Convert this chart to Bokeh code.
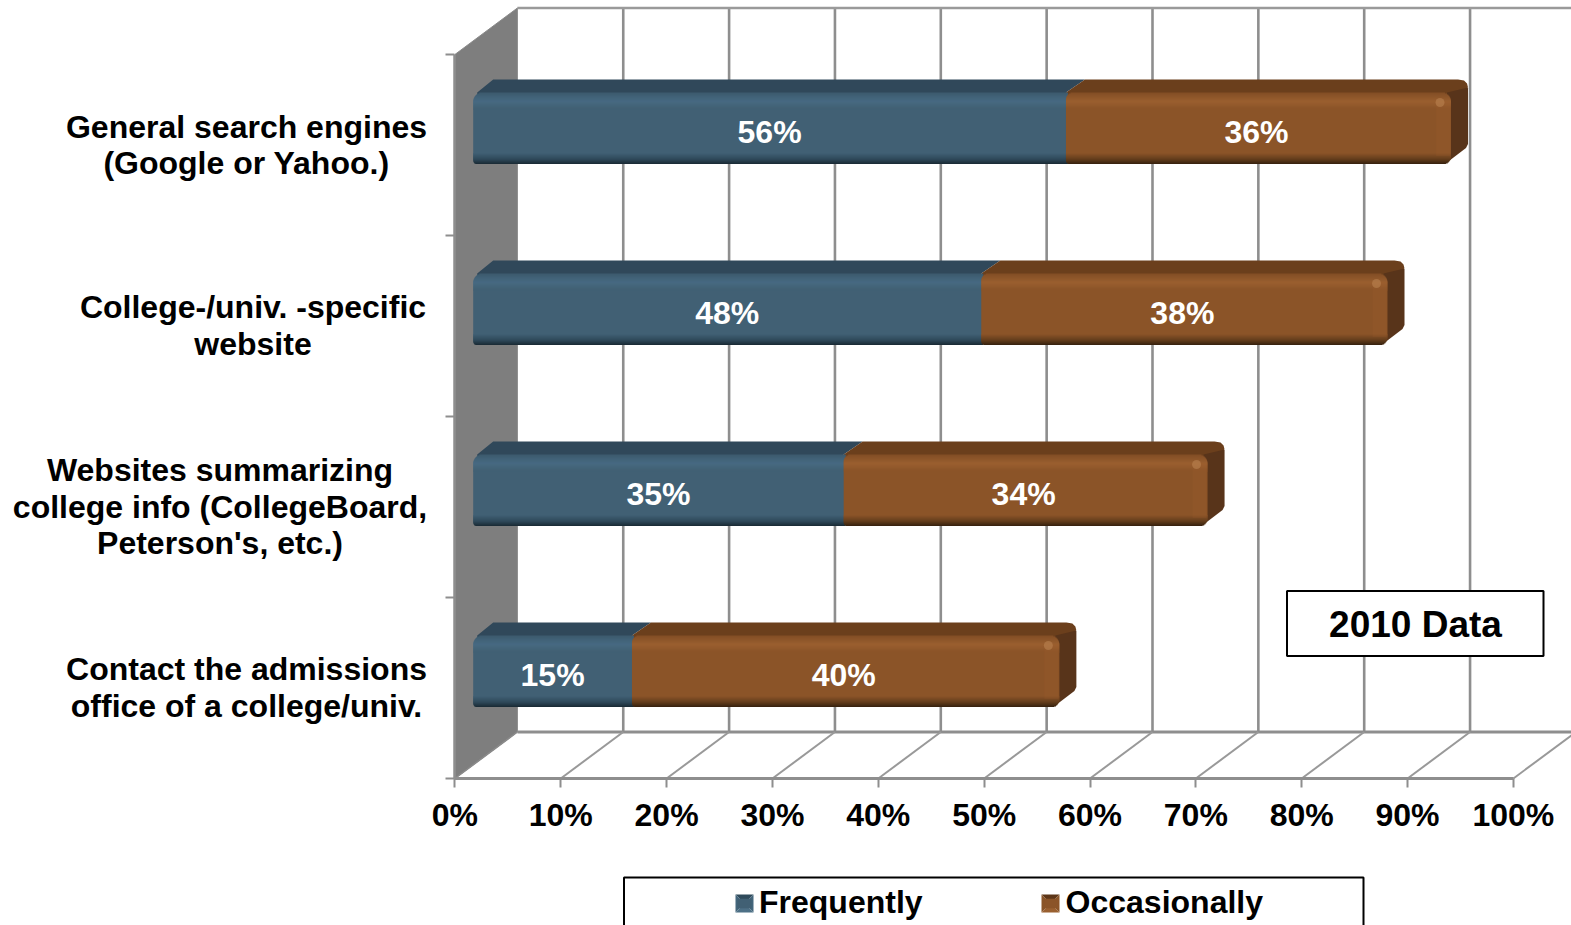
from bokeh.embed import file_html
from bokeh.resources import INLINE
from bokeh.core.properties import value
from bokeh.models import (BoxAnnotation, FixedTicker, Label, Legend, LegendItem,
                          PolyAnnotation, Range1d)
from bokeh.plotting import figure

# Survey results, bottom category first
category_lines = [
    ["Contact the admissions", "office of a college/univ."],
    ["Websites summarizing", "college info (CollegeBoard,", "Peterson's, etc.)"],
    ["College-/univ. -specific", "website"],
    ["General search engines", "(Google or Yahoo.)"],
]
frequently = [15, 35, 48, 56]
occasionally = [40, 34, 38, 36]
x_ticks = [0, 10, 20, 30, 40, 50, 60, 70, 80, 90, 100]
x_tick_labels = ["0%", "10%", "20%", "30%", "40%", "50%", "60%", "70%", "80%", "90%", "100%"]
series_names = ["Frequently", "Occasionally"]
badge_text = "2010 Data"

FONT = "Liberation Sans"
W, H = 1571, 925
LEFT, BOTTOM = 454.4, 147    # page position of the plot origin
X_SCALE = 10.585   # pixels per percentage point
Y_SCALE = 181.0    # pixels per category band


def dx(px):
    return px / X_SCALE


def dy(px):
    return px / Y_SCALE


def px_x(px):
    return (px - LEFT) / X_SCALE


def px_y(px):
    return (H - BOTTOM - px) / Y_SCALE


n_cat = len(category_lines)
p = figure(width=W, height=H, output_backend="svg", toolbar_location=None,
           x_range=Range1d(px_x(0), px_x(W)), y_range=Range1d(px_y(H), px_y(0)),
           min_border=0, outline_line_color=None,
           background_fill_color="white", border_fill_color="white")
p.grid.visible = False

GRID = "#8e8e8e"
WALL_X, WALL_Y = dx(62.5), dy(46.5)

# Side wall of the 3D box
p.patch([0, WALL_X, WALL_X, 0], [0, WALL_Y, n_cat + WALL_Y, n_cat],
        fill_color="#7e7e7e", line_color="#8a8a8a", line_width=1)

# Back wall gridlines, rear edges and floor diagonals
back_x = [t + WALL_X for t in x_ticks]
p.segment(back_x[1:], [WALL_Y] * 10, back_x[1:], [n_cat + WALL_Y] * 10,
          line_color=GRID, line_width=2.6)
p.segment([WALL_X], [n_cat + WALL_Y], [px_x(W + 10)], [n_cat + WALL_Y],
          line_color="#9a9a9a", line_width=2.4)
p.segment([WALL_X], [WALL_Y], [100 + WALL_X], [WALL_Y], line_color=GRID, line_width=2.8)
p.segment(x_ticks[1:], [0] * 10, back_x[1:], [WALL_Y] * 10, line_color="#999999", line_width=2)
p.segment([0], [0], [WALL_X], [WALL_Y], line_color="#8a8a8a", line_width=1.5)

# Bar geometry relative to each category band centre
BAR_X = dx(18.3)
FACE_TOP, FACE_BOT = dy(52.5), -dy(19.0)
DEPTH_Y = dy(13.0)
DEPTH_X = dx(17.0)
SPLIT_X = dx(19.0)  # rear offset of the blue/brown joint
CAP = dx(4)         # rounded end cap extends past the stacked total
FACE_PX = 72

# Vertical shading of the rounded bar fronts: position, blue, brown
SHADE = [
    (0.00, (0x3d, 0x5b, 0x6f), (0x83, 0x4e, 0x25)),
    (0.12, (0x47, 0x6a, 0x82), (0x9a, 0x5f, 0x30)),
    (0.22, (0x41, 0x60, 0x74), (0x8b, 0x54, 0x28)),
    (0.86, (0x3f, 0x5e, 0x72), (0x88, 0x52, 0x27)),
    (0.94, (0x2e, 0x48, 0x59), (0x62, 0x3c, 0x1b)),
    (1.00, (0x1b, 0x2c, 0x37), (0x3a, 0x23, 0x0f)),
]


def shade(f, which):
    for (f0, *c0), (f1, *c1) in zip(SHADE, SHADE[1:]):
        if f <= f1:
            t = (f - f0) / (f1 - f0)
            a, b = c0[which], c1[which]
            return "#%02x%02x%02x" % tuple(round(u + (v - u) * t) for u, v in zip(a, b))
    return "#000000"


def corner(row, r_top, r_bot):
    """Horizontal inset in pixels of a rounded corner at this pixel row."""
    if row < r_top:
        d = r_top - row - 0.5
        return r_top - (r_top ** 2 - d ** 2) ** 0.5
    low = FACE_PX - 1 - row
    if low < r_bot:
        d = r_bot - low - 0.5
        return r_bot - (r_bot ** 2 - d ** 2) ** 0.5
    return 0.0


# Right end and top faces, drawn first so the fronts overlap them
UNDERLAP = dy(6)   # faces run under the front so no seam shows
for i in range(n_cat):
    c = i + 0.5
    x0 = BAR_X
    x1 = x0 + frequently[i]
    x2 = x1 + occasionally[i] + CAP
    t, b = c + FACE_TOP, c + FACE_BOT
    bt = t + DEPTH_Y
    xb = x2 + DEPTH_X
    p.patch([x2 - dx(10), xb - dx(3), xb, xb, xb - dx(2), x2 - dx(6), x2 - dx(10)],
            [t, bt - dy(4), bt - dy(9), b + dy(20), b + dy(16), b, b],
            fill_color="#58341a", line_color=None)
    p.patch([x0 + dx(4), x0 + dx(20), x1 + SPLIT_X, x1, x1, x0 + dx(4)],
            [t, bt, bt, t, t - UNDERLAP, t - UNDERLAP],
            fill_color="#30485a", line_color=None)
    p.patch([x1, x1 + SPLIT_X, xb - dx(10), xb - dx(4), xb - dx(1), xb, x2 - dx(4),
             x2 - dx(4), x1],
            [t, bt, bt, bt - dy(1), bt - dy(4), bt - dy(8), t, t - UNDERLAP, t - UNDERLAP],
            fill_color="#6b3f1c", line_color=None)

# Bar fronts: fine rows at the shaded rims, one wide row for the flat body
BODY_START, BODY_END = 17, 61
row_spans = [(r, r + 1) for r in range(BODY_START)] + [(BODY_START, BODY_END)] \
    + [(r, r + 1) for r in range(BODY_END, FACE_PX)]
rows = {0: dict(l=[], r=[], t=[], b=[], c=[]), 1: dict(l=[], r=[], t=[], b=[], c=[])}
for i in range(n_cat):
    c = i + 0.5
    x0 = BAR_X
    x1 = x0 + frequently[i]
    x2 = x1 + occasionally[i] + CAP
    top = c + FACE_TOP
    for r0, r1 in row_spans:
        f = r0 / (FACE_PX - 1)
        y_t = top - dy(r0 * 71.5 / FACE_PX)
        y_b = top - dy(min((r1 + 0.6) * 71.5 / FACE_PX, 71.5))
        rows[0]["l"].append(x0 + dx(corner(r0, 9, 4)))
        rows[0]["r"].append(x1 + dx(2))
        rows[0]["t"].append(y_t)
        rows[0]["b"].append(y_b)
        rows[0]["c"].append(shade(f, 0))
        rows[1]["l"].append(x1 + dx(corner(r0, 7, 4)))
        rows[1]["r"].append(x2 - dx(corner(r0, 9, 8)))
        rows[1]["t"].append(y_t)
        rows[1]["b"].append(y_b)
        rows[1]["c"].append(shade(f, 1))

front_renderers = []
for k in (0, 1):
    d = rows[k]
    front_renderers.append(p.quad(left=d["l"], right=d["r"], top=d["t"], bottom=d["b"],
                                  fill_color=d["c"], line_color=None))

# Raised rim and corner glint at the right end of each bar
for i in range(n_cat):
    c = i + 0.5
    x2 = BAR_X + frequently[i] + occasionally[i] + CAP
    p.quad(left=[x2 - dx(15)], right=[x2 - dx(1)], top=[c + FACE_TOP - dy(9)],
           bottom=[c + FACE_BOT + dy(8)], fill_color="#a8662f", fill_alpha=0.14, line_color=None)
    p.scatter([x2 - dx(11)], [c + FACE_TOP - dy(10)], size=9, marker="circle",
              fill_color="#c08a58", fill_alpha=0.5, line_color=None)

# Value labels centred on the segments
LABEL_Y = dy(13.3)
lx, ly, lt = [], [], []
for i in range(n_cat):
    lx += [BAR_X + frequently[i] / 2, BAR_X + frequently[i] + occasionally[i] / 2]
    ly += [i + 0.5 + LABEL_Y] * 2
    lt += [f"{frequently[i]}%", f"{occasionally[i]}%"]
p.text(lx, ly, text=lt, text_color="white", text_font=value(FONT), text_font_style="bold",
       text_font_size="32px", text_align="center", text_baseline="middle")

# Axes sit at the plot origin inside the full-page frame
ax = p.xaxis[0]
ax.fixed_location = 0
ax.bounds = (0, 100)
ax.ticker = FixedTicker(ticks=x_ticks)
ax.major_label_overrides = dict(zip(x_ticks, x_tick_labels))
ax.major_label_text_font = FONT
ax.major_label_text_font_style = "bold"
ax.major_label_text_font_size = "32px"
ax.major_label_text_color = "black"
ax.major_label_standoff = 9
ax.axis_line_color = GRID
ax.axis_line_width = 2.8
ax.major_tick_line_color = GRID
ax.major_tick_line_width = 2
ax.major_tick_out = 9
ax.major_tick_in = 0
ax.minor_tick_line_color = None

ay = p.yaxis[0]
ay.fixed_location = 0
ay.ticker = FixedTicker(ticks=list(range(n_cat + 1)))
ay.major_label_text_font_size = "0px"
ay.major_label_text_color = None
ay.axis_line_color = GRID
ay.axis_line_width = 2.5
ay.major_tick_line_color = GRID
ay.major_tick_line_width = 2
ay.major_tick_out = 9
ay.major_tick_in = 0
ay.minor_tick_line_color = None
ay.bounds = (0, n_cat)

# Category labels, centred line by line inside the label block
label_centres = [246, 219.5, 252.5, 246]
label_lines_y = [[668, 705], [469, 506, 542], [306.5, 343], [126.5, 162.5]]
for lines, cx, ys in zip(category_lines, label_centres, label_lines_y):
    for line, y in zip(lines, ys):
        p.add_layout(Label(x=px_x(cx), y=px_y(y), text=line, text_font=FONT,
                           text_font_style="bold", text_font_size="32px", text_color="black",
                           text_align="center", text_baseline="middle"))

# Boxed year note
p.add_layout(BoxAnnotation(left=px_x(1286.5), right=px_x(1543), top=px_y(590.5), bottom=px_y(655.5),
                           fill_color="white", fill_alpha=1, line_color="black", line_width=2,
                           line_alpha=1, level="annotation"))
p.add_layout(Label(x=px_x(1415), y=px_y(623.5), text=badge_text, text_font=FONT,
                   text_font_style="bold", text_font_size="37px", text_color="black",
                   text_align="center", text_baseline="middle"))

# Legend frame runs off the bottom of the page
p.add_layout(BoxAnnotation(left=px_x(623.5), right=px_x(1363), top=px_y(877), bottom=px_y(H + 20),
                           fill_color="white", fill_alpha=1, line_color="black", line_width=2,
                           line_alpha=1, level="annotation"))
legend = Legend(
    items=[LegendItem(label=series_names[0], renderers=[front_renderers[0]], index=BODY_START),
           LegendItem(label=series_names[1], renderers=[front_renderers[1]], index=BODY_START)],
    orientation="horizontal", location=(735, 4), margin=0, padding=0,
    spacing=119, glyph_width=18, glyph_height=12, label_standoff=6,
    label_text_font=FONT, label_text_font_style="bold", label_text_font_size="32px",
    label_text_color="black", background_fill_alpha=0, border_line_color=None)
p.add_layout(legend)

# Pyramid shading on the legend swatches
swatch_tones = [("#2f4a5b", "#44667c", "#44667c", "#4d7086"),
                ("#5d3618", "#8a5427", "#8a5427", "#9a6030")]
for sx, tones in zip((735, 1041), swatch_tones):
    xl, xr, xm = sx, sx + 18, sx + 9
    yt, yb, ym = 894, 912, 903
    faces = [((xl, yt), (xr, yt)), ((xl, yt), (xl, yb)), ((xr, yt), (xr, yb)), ((xl, yb), (xr, yb))]
    for (a, b), tone in zip(faces, tones):
        p.add_layout(PolyAnnotation(xs=[px_x(a[0]), px_x(b[0]), px_x(xm)],
                                    ys=[px_y(a[1]), px_y(b[1]), px_y(ym)],
                                    fill_color=tone, fill_alpha=1, line_color=None,
                                    level="overlay"))

open("out.html", "w").write(file_html(p, INLINE))
